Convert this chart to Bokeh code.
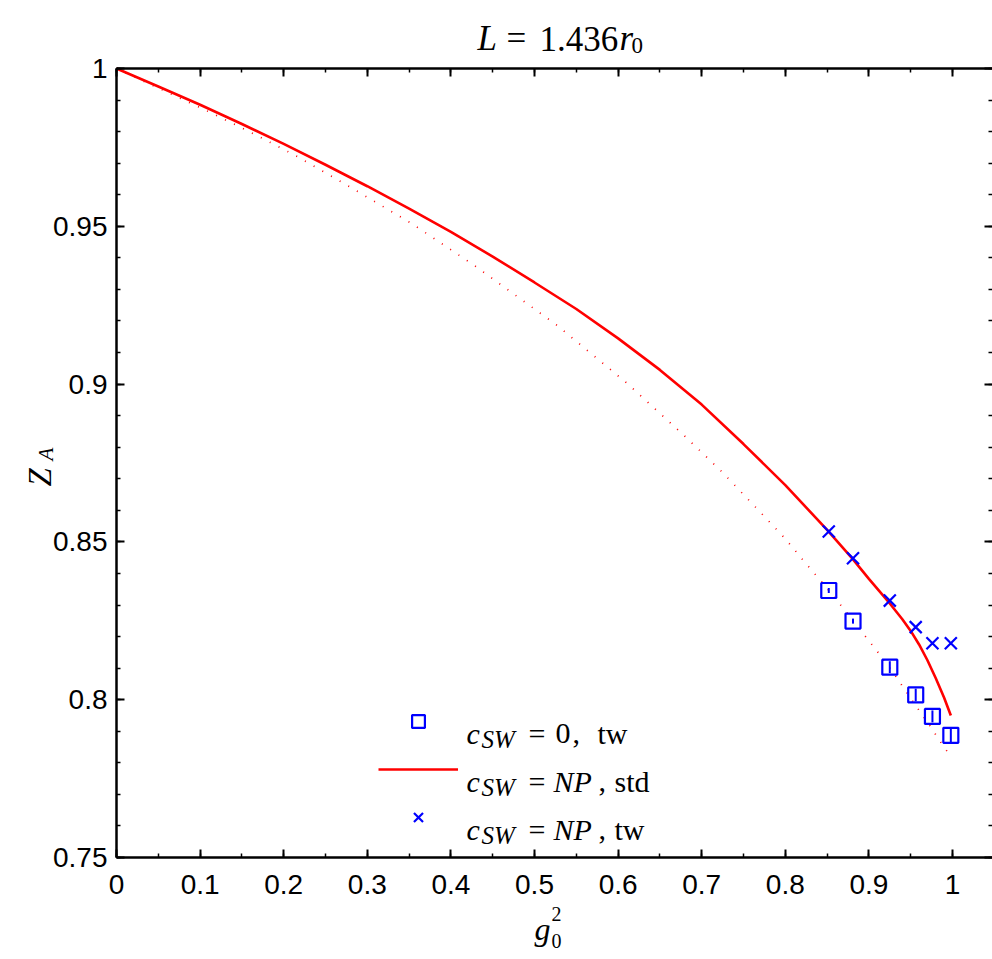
import math
from bokeh.plotting import figure
from bokeh.models import (LinearAxis, FixedTicker, Label, Legend, LegendItem,
                          CustomJSTickFormatter)
from bokeh.core.properties import value
from bokeh.embed import file_html
from bokeh.resources import INLINE

# ---------------- data ----------------
# c_SW = NP, std  (solid red curve)
std_g2 = [0.0, 0.05, 0.1, 0.15, 0.2, 0.25, 0.3, 0.35, 0.4, 0.45, 0.5, 0.55, 0.6,
          0.65, 0.7, 0.75, 0.8, 0.85, 0.88, 0.9, 0.925, 0.94, 0.95, 0.96, 0.97,
          0.98, 0.99, 0.998]
std_za = [1.0, 0.9943, 0.9885, 0.9824, 0.9761, 0.9695, 0.9627, 0.9556, 0.9482,
          0.9404, 0.9322, 0.9238, 0.9145, 0.9045, 0.8935, 0.8810, 0.8680, 0.8538,
          0.8448, 0.8383, 0.8305, 0.8255, 0.8218, 0.8175, 0.8125, 0.8068, 0.8006,
          0.7950]

# dotted red curve
dot_g2 = [0.0, 0.105, 0.159, 0.212, 0.263, 0.353, 0.428, 0.527, 0.611, 0.679, 0.725,
          0.768, 0.8, 0.821, 0.842, 0.862, 0.893, 0.913, 0.933, 0.951, 0.97, 0.988, 0.998]
dot_za = [1.0, 0.987, 0.98, 0.9727, 0.965, 0.9509, 0.9376, 0.9186, 0.9002, 0.8837,
          0.872, 0.86, 0.851, 0.8443, 0.8378, 0.8314, 0.821, 0.8143, 0.8071, 0.8,
          0.7929, 0.7857, 0.782]

# points
pts_g2 = [0.852, 0.881, 0.925, 0.956, 0.976, 0.998]
za_csw0_tw = [0.8346, 0.8249, 0.8103, 0.8015, 0.7947, 0.7887]
err_csw0_tw = [0.0008, 0.0008, 0.0019, 0.0020, 0.0019, 0.0025]
za_np_tw = [0.8533, 0.8448, 0.8314, 0.8230, 0.8179, 0.8179]

x_ticks = [0.0, 0.1, 0.2, 0.3, 0.4, 0.5, 0.6, 0.7, 0.8, 0.9, 1.0]
x_tick_labels = ["0", "0.1", "0.2", "0.3", "0.4", "0.5", "0.6", "0.7", "0.8", "0.9", "1"]
y_ticks = [0.75, 0.8, 0.85, 0.9, 0.95, 1.0]
y_tick_labels = ["0.75", "0.8", "0.85", "0.9", "0.95", "1"]

# ---------------- layout ----------------
# The frame covers the whole canvas; the axes sit at fixed data locations so that
# the plotting box spans canvas pixels x 116..992, y 68..857.
W, H = 992, 955
BOX_L, BOX_T, BOX_B = 116, 68, 857
PX_PER_X = 836.0
PX_PER_Y = (BOX_B - BOX_T) / 0.25
XEND = (W - BOX_L) / PX_PER_X
x0 = -BOX_L / PX_PER_X
y1 = 1.0 + BOX_T / PX_PER_Y
y0 = 1.0 - (H - BOX_T) / PX_PER_Y

p = figure(width=W, height=H, x_range=(x0, XEND), y_range=(y0, y1),
           output_backend="svg", toolbar_location=None,
           x_axis_location=None, y_axis_location=None,
           min_border=0, min_border_left=0, min_border_right=0,
           min_border_top=0, min_border_bottom=0)
p.outline_line_color = None
p.grid.visible = False
p.background_fill_color = "white"
p.border_fill_color = "white"

x_minor = [round(0.05 * i, 2) for i in range(0, 22)]
y_minor = [round(0.75 + 0.01 * i, 2) for i in range(0, 26)]
xtick = FixedTicker(ticks=x_ticks, minor_ticks=x_minor)
ytick = FixedTicker(ticks=y_ticks, minor_ticks=y_minor)
blank = CustomJSTickFormatter(code="return ''")

TICKFONT = "Liberation Sans"


def style_axis(ax, labels=True):
    ax.axis_line_width = 2.5
    ax.axis_line_color = "black"
    ax.major_tick_in = 8
    ax.major_tick_out = 0
    ax.minor_tick_in = 4
    ax.minor_tick_out = 0
    ax.major_tick_line_width = 2
    ax.minor_tick_line_width = 1.5
    ax.major_tick_line_color = "black"
    ax.minor_tick_line_color = "black"
    ax.major_label_text_font = TICKFONT
    ax.major_label_text_font_size = "28px"
    ax.major_label_text_color = "black"
    if not labels:
        ax.formatter = blank
        ax.major_label_standoff = 0


bottom = LinearAxis(ticker=xtick, fixed_location=0.75, bounds=(0, XEND))
style_axis(bottom)
bottom.major_label_overrides = dict(zip(x_ticks, x_tick_labels))
bottom.major_label_standoff = 17
p.add_layout(bottom, "below")

left = LinearAxis(ticker=ytick, fixed_location=0.0, bounds=(0.75, 1.0))
style_axis(left)
left.major_label_overrides = dict(zip(y_ticks, y_tick_labels))
left.major_label_standoff = 9
p.add_layout(left, "left")

top = LinearAxis(ticker=xtick, fixed_location=1.0, bounds=(0, XEND))
style_axis(top, labels=False)
p.add_layout(top, "above")

right = LinearAxis(ticker=ytick, fixed_location=XEND, bounds=(0.75, 1.0))
style_axis(right, labels=False)
right.axis_line_alpha = 0
p.add_layout(right, "right")

# ---------------- glyphs ----------------
dotted = p.line(dot_g2, dot_za, line_color="red", line_width=1.7, line_dash="1 9")
solid = p.line(std_g2, std_za, line_color="red", line_width=2.6)
lo = [v - e for v, e in zip(za_csw0_tw, err_csw0_tw)]
hi = [v + e for v, e in zip(za_csw0_tw, err_csw0_tw)]
p.segment(x0=pts_g2, y0=lo, x1=pts_g2, y1=hi, line_color="blue", line_width=2)
squares = p.scatter(pts_g2, za_csw0_tw, marker="square", size=15, fill_color=None,
                    line_color="blue", line_width=2.2)
crosses = p.scatter(pts_g2, za_np_tw, marker="x", size=17, line_color="blue",
                    line_width=2.2)

legend = Legend(items=[LegendItem(label=value(""), renderers=[squares]),
                       LegendItem(label=value(""), renderers=[solid]),
                       LegendItem(label=value(""), renderers=[crosses])],
                location=(378, H - 833), orientation="vertical",
                glyph_width=80, glyph_height=32, label_height=32, label_width=0,
                label_standoff=0, spacing=16, padding=0, margin=0,
                border_line_color=None, background_fill_alpha=0)
p.add_layout(legend)

# ---------------- rich texts ----------------
SERIF = "Liberation Serif"


def txt(s, px, py, size, style="normal", angle=0):
    p.add_layout(Label(x=px, y=py, x_units="canvas", y_units="canvas", text=s,
                       text_font=SERIF, text_font_size=f"{size}px",
                       text_font_style=style, text_color="black",
                       text_baseline="alphabetic", text_align="left", angle=angle))


# title  L = 1.436 r_0
txt("L", 477, 38, 35, "italic")
txt("=", 506, 38, 35)
txt("1.436", 539, 38, 35)
txt("r", 619, 38, 35, "italic")
txt("0", 631, 45, 23)

# y label  Z_A (rotated)
txt("Z", 39, 486, 33, "italic", angle=math.pi / 2)
txt("A", 45, 460, 21, "italic", angle=math.pi / 2)

# x label  g_0^2
txt("g", 534, 928, 32, "italic")
txt("2", 551, 913, 20)
txt("0", 551, 940, 20)

# legend texts
rows = [733, 781, 829]
for by in rows:
    txt("c", 466, by, 30, "italic")
    txt("SW", 481, by + 6, 25, "italic")
    txt("=", 528, by, 30)
rb = rows[0]
txt("0", 555, rb, 30)
txt(",", 572, rb, 30)
txt("tw", 597, rb, 30)
rb = rows[1]
txt("NP", 553, rb, 30, "italic")
txt(",", 598, rb, 30)
txt("std", 614, rb, 30)
rb = rows[2]
txt("NP", 553, rb, 30, "italic")
txt(",", 598, rb, 30)
txt("tw", 614, rb, 30)

open("out.html", "w").write(file_html(p, INLINE))
